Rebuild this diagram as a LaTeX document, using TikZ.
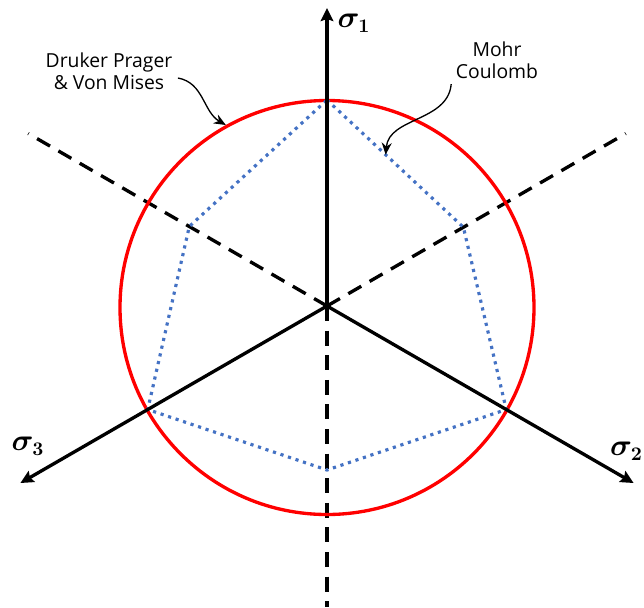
\documentclass[tikz,border=0pt]{standalone}
\definecolor{YieldRed}{HTML}{FF0000}
\definecolor{YieldBlue}{HTML}{4472C4}
\definecolor{YieldBlack}{HTML}{000000}
\usepackage{fontspec}
\setmainfont{Open Sans}
\usepackage{amsmath}
\usepackage{bm}
\usetikzlibrary{arrows.meta, positioning, calc}
\tikzset{
    % axes of principal stress
    principal axis/.style={
        line width=1.9pt,
        -{Stealth[length=2.6mm, width=2.5mm, inset=0.4mm]},
        YieldBlack
    },
    tension axis/.style={
        line width=1.9pt,
        dash pattern=on 8.5pt off 5.5pt,
        YieldBlack
    },
    % yield surfaces
    circle criterion/.style={
        circle,
        draw=YieldRed,
        line width=1.9pt,
        minimum size=8.28cm,
        inner sep=0pt
    },
    hexagon criterion/.style={
        draw=YieldBlue,
        line width=1.8pt,
        dash pattern=on 1.8pt off 2.7pt
    },
    stress label/.style={
        font=\fontsize{16}{19}\selectfont
    },
    criterion label/.style={
        align=center,
        font=\fontsize{11}{12.6}\selectfont,
        inner sep=1pt
    },
    pointer/.style={
        -{Stealth[length=2.4mm, width=2mm]},
        line width=0.75pt,
        YieldBlack
    }
}
\begin{document}
\begin{tikzpicture}
    \useasboundingbox (-6.54,-6.02) rectangle (6.34,6.12);

    % origin and axis ends
    \coordinate (o) at (0,0);
    \coordinate (s1) at (90:5.96);
    \coordinate (s2) at (-30:7.08);
    \coordinate (s3) at (210:7.08);
    \coordinate (t1) at (270:6.02);
    \coordinate (t2) at (150:6.9);
    \coordinate (t3) at (30:6.9);

    % dashed axes
    \draw[tension axis] (o) -- (t1);
    \draw[tension axis] (o) -- (t2);
    \draw[tension axis] (o) -- (t3);

    % Druker Prager / Von Mises circle
    \node[circle criterion] (dp) at (0,-0.03) {};

    % Mohr Coulomb hexagon
    \coordinate (m1) at (90:4.12);
    \coordinate (m2) at (30:3.15);
    \coordinate (m3) at (-30:4.14);
    \coordinate (m4) at (270:3.28);
    \coordinate (m5) at (210:4.14);
    \coordinate (m6) at (150:3.18);
    \draw[hexagon criterion] (m1) -- (m2) -- (m3) -- (m4) -- (m5) -- (m6) -- cycle;

    % principal axes
    \draw[principal axis] (o) -- (s1);
    \draw[principal axis] (o) -- (s2);
    \draw[principal axis] (o) -- (s3);

    \node[stress label] (l1) at (0.54,5.66) {$\bm{\sigma_1}$};
    \node[stress label, anchor=east, inner sep=0.5pt] (l2) at (6.34,-2.9) {$\bm{\sigma_2}$};
    \node[stress label] (l3) at (-5.98,-2.8) {$\bm{\sigma_3}$};

    % labels with pointers
    \node[criterion label] (dpl) at (-4.36,4.7) {Druker Prager\\\& Von Mises};
    \node[criterion label] (mcl) at (3.4,4.92) {Mohr\\Coulomb};

    \draw[pointer] ([xshift=2pt,yshift=-4pt]dpl.east) to[out=-10, in=150] (dp.119);
    \draw[pointer] ([xshift=-1.5pt,yshift=-2pt]mcl.south west) to[out=-95, in=85] ($(m1)!0.43!(m2)$);
\end{tikzpicture}
\end{document}
